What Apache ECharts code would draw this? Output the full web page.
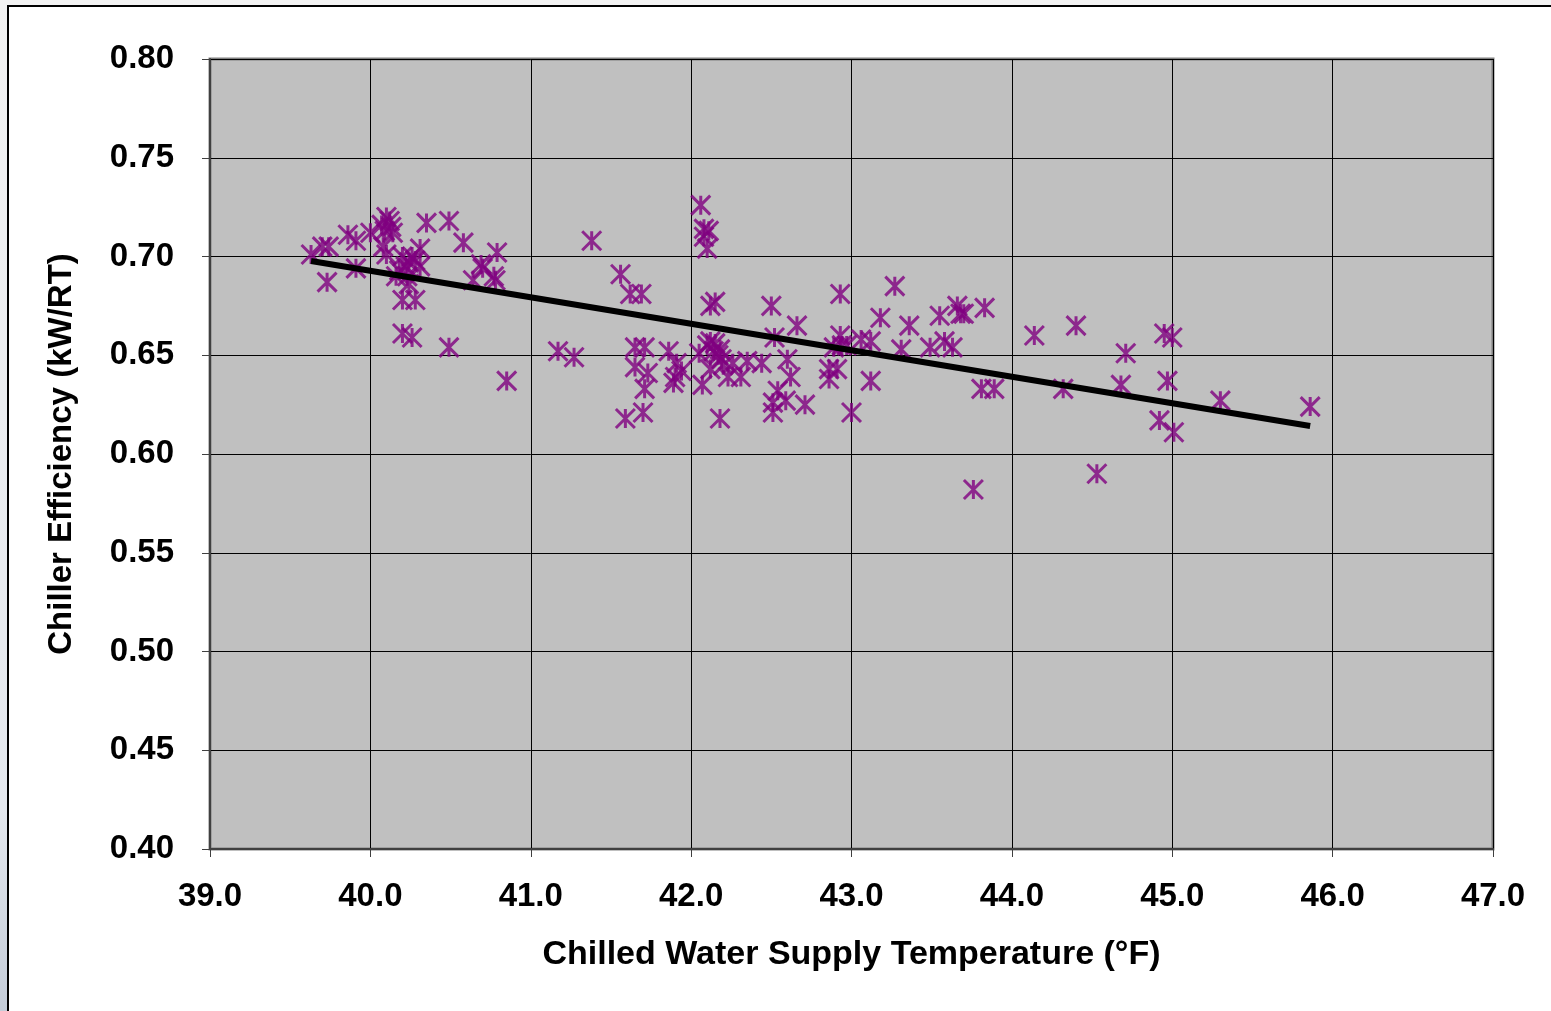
<!DOCTYPE html>
<html>
<head>
<meta charset="utf-8">
<script src="https://cdn.jsdelivr.net/npm/echarts@6/dist/echarts.min.js"></script>
<style>
html, body { margin:0; padding:0; }
body { width:1551px; height:1011px; overflow:hidden; background:linear-gradient(#f2f2f2, #e4e8ee 80%, #c4ccd8); position:relative; }
#frame { position:absolute; left:7px; top:5px; width:1560px; height:1020px; background:#fff; border-top:2px solid #000; border-left:2px solid #000; }
#chart { position:absolute; left:0; top:0; width:1551px; height:1011px; }
</style>
</head>
<body>
<div id="frame"></div>
<div id="chart"></div>
<script>
// measured points: supply temperature (F) and efficiency (kW/RT)
var tempF = [39.63, 39.70, 39.74, 39.73, 39.86, 39.91, 39.91, 40.00, 40.10, 40.12,
    40.09, 40.14, 40.08, 40.10, 40.31, 40.20, 40.24, 40.28, 40.31, 40.18,
    40.23, 40.24, 40.20, 40.28, 40.20, 40.26, 40.35, 40.49, 40.49, 40.58,
    40.79, 40.69, 40.70, 40.77, 40.64, 40.78, 40.85, 40.22, 40.16, 40.26,
    40.13, 40.07,
    41.38, 41.56, 41.62, 41.69, 41.17, 41.27, 41.65, 41.71, 41.65, 41.73,
    41.71, 41.59, 41.70, 41.86, 41.91, 41.90, 41.89, 41.94, 42.06, 42.08,
    42.08, 42.11, 42.10, 42.12, 42.15, 42.05, 42.12, 42.15, 42.18, 42.07,
    42.12, 42.19, 42.18, 42.23, 42.26, 42.31, 42.35, 42.44, 42.50, 42.52,
    42.54, 42.51, 42.51, 42.66, 42.60, 42.62, 42.59, 42.71, 42.10, 42.14,
    42.17, 42.20,
    42.93, 42.93, 42.89, 42.94, 42.97, 42.86, 42.91, 42.86, 43.00, 43.06,
    43.12, 43.12, 43.18, 43.27, 43.36, 43.31, 43.49, 43.55, 43.58, 43.66,
    43.68, 43.70, 43.83, 43.63, 43.81, 43.89, 43.76, 44.14, 44.40, 44.32,
    44.53, 44.71, 44.68, 44.95, 45.00, 44.97, 44.92, 45.01, 45.30, 45.86];
var kwPerRt = [0.701, 0.705, 0.705, 0.687, 0.711, 0.708, 0.694, 0.712, 0.720, 0.718,
    0.713, 0.712, 0.705, 0.701, 0.704, 0.700, 0.697, 0.698, 0.695, 0.693,
    0.690, 0.686, 0.678, 0.678, 0.661, 0.659, 0.717, 0.718, 0.654, 0.707,
    0.702, 0.696, 0.694, 0.690, 0.688, 0.688, 0.637, 0.695, 0.690, 0.700,
    0.715, 0.716,
    0.708, 0.691, 0.681, 0.681, 0.652, 0.649, 0.654, 0.654, 0.644, 0.641,
    0.633, 0.618, 0.621, 0.652, 0.646, 0.639, 0.636, 0.642, 0.726, 0.714,
    0.710, 0.713, 0.704, 0.675, 0.677, 0.651, 0.657, 0.656, 0.653, 0.635,
    0.643, 0.648, 0.618, 0.639, 0.646, 0.639, 0.647, 0.646, 0.675, 0.659,
    0.632, 0.626, 0.621, 0.665, 0.648, 0.639, 0.627, 0.625, 0.655, 0.652,
    0.650, 0.645,
    0.681, 0.660, 0.654, 0.655, 0.655, 0.643, 0.643, 0.638, 0.621, 0.658,
    0.657, 0.637, 0.669, 0.685, 0.665, 0.653, 0.654, 0.670, 0.657, 0.675,
    0.671, 0.671, 0.674, 0.654, 0.633, 0.633, 0.582, 0.660, 0.665, 0.633,
    0.590, 0.651, 0.635, 0.661, 0.659, 0.637, 0.617, 0.611, 0.627, 0.624];

// linear trend line end points
var trendX = [39.63, 45.86];
var trendY = [0.6977, 0.6142];

var points = tempF.map(function (t, i) { return [t, kwPerRt[i]]; });
var trend = trendX.map(function (t, i) { return [t, trendY[i]]; });

var font = 'Liberation Sans, Arial, sans-serif';
var chart = echarts.init(document.getElementById('chart'));
chart.setOption({
    animation: false,
    grid: {
        left: 210, right: 58, top: 59, bottom: 162,
        show: true,
        backgroundColor: '#c0c0c0',
        borderColor: '#808080',
        borderWidth: 3
    },
    xAxis: {
        type: 'value',
        min: 39, max: 47, interval: 1,
        name: 'Chilled Water Supply Temperature (\u00b0F)',
        nameLocation: 'middle',
        nameGap: 89,
        nameTextStyle: { fontFamily: font, fontWeight: 'bold', fontSize: 34, color: '#000' },
        axisLine: { lineStyle: { color: '#404040', width: 2 } },
        axisTick: { show: true, length: 8, lineStyle: { color: '#404040' } },
        axisLabel: {
            margin: 31, fontFamily: font, fontWeight: 'bold', fontSize: 33, color: '#000',
            formatter: function (v) { return v.toFixed(1); }
        },
        splitLine: { lineStyle: { color: '#000', width: 1 } }
    },
    yAxis: {
        type: 'value',
        min: 0.40, max: 0.80, interval: 0.05,
        name: 'Chiller Efficiency (kW/RT)',
        nameLocation: 'middle',
        nameGap: 132,
        nameTextStyle: { fontFamily: font, fontWeight: 'bold', fontSize: 33, color: '#000' },
        axisLine: { show: true, lineStyle: { color: '#404040', width: 2 } },
        axisTick: { show: true, length: 8, lineStyle: { color: '#404040' } },
        axisLabel: {
            margin: 36, fontFamily: font, fontWeight: 'bold', fontSize: 33, color: '#000',
            formatter: function (v) { return v.toFixed(2); }
        },
        splitLine: { lineStyle: { color: '#000', width: 1 } }
    },
    series: [
    {
        name: 'Efficiency',
        type: 'scatter',
        data: points,
        symbol: 'path://M0,0L16,16M16,0L0,16M8,0L8,16',
        symbolSize: 19,
        itemStyle: { color: '#800080', borderColor: '#800080', borderWidth: 3 },
        z: 3
    },
    {
        name: 'Trend',
        type: 'line',
        data: trend,
        symbol: 'none',
        lineStyle: { color: '#000', width: 6 },
        z: 4
    }]
});
</script>
</body>
</html>
